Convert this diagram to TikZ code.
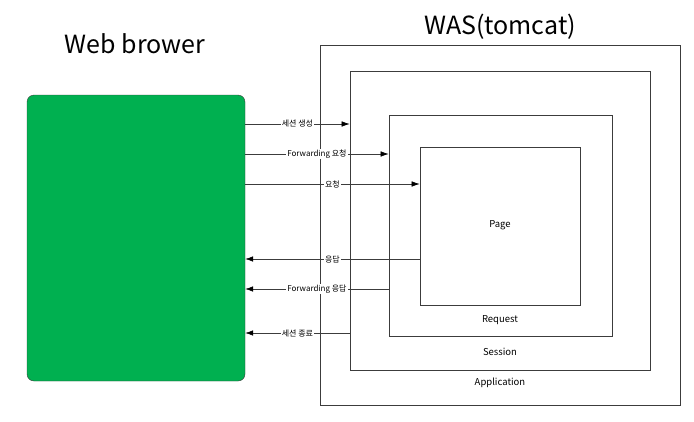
\documentclass[tikz,border=0pt]{standalone}
\usepackage{fontspec}
\setmainfont{Noto Sans CJK KR}
\usepackage{tikz}
\usetikzlibrary{arrows.meta}

\definecolor{browsergreen}{RGB}{0,176,80}
\definecolor{linegray}{RGB}{60,60,60}

\tikzset{
    scopebox/.style={draw=linegray, line width=0.7pt, inner sep=0pt},
    msg/.style={linegray, line width=0.6pt, -{Latex[length=8pt, width=5.5pt, black]}},
    msglabel/.style={fill=white, inner sep=1pt, font=\fontsize{8}{9}\selectfont, text=black},
    boxlabel/.style={font=\fontsize{9.5}{11}\selectfont},
    title/.style={font=\fontsize{25}{30}\selectfont, anchor=base}
}

\begin{document}
\begin{tikzpicture}[x=1pt, y=-1pt]
    \useasboundingbox (0,0) rectangle (694,421);

    % Titles
    \node[title] (webtitle) at (135,53) {Web brower};
    \node[title] (wastitle) at (500,34) {WAS(tomcat)};

    % Browser
    \node[draw=linegray, fill=browsergreen, rounded corners=7pt, minimum width=218pt, minimum height=286pt] (browser) at (136,238) {};

    % Scopes of the WAS
    \node[scopebox, minimum width=360pt, minimum height=360pt] (application) at (500,225) {};
    \node[scopebox, minimum width=300pt, minimum height=299pt] (session) at (500,220.5) {};
    \node[scopebox, minimum width=223pt, minimum height=221pt] (request) at (500.5,225.5) {};
    \node[scopebox, minimum width=160pt, minimum height=158pt] (page) at (500,226) {};

    % Scope labels
    \node[boxlabel] (pagelbl) at (500,225) {Page};
    \node[boxlabel] (requestlbl) at (500,320) {Request};
    \node[boxlabel] (sessionlbl) at (500,352) {Session};
    \node[boxlabel] (applicationlbl) at (500,383) {Application};

    % Requests
    \draw[msg] (browser.east |- 0,124) -- node[msglabel] {세션 생성} (session.west |- 0,124);
    \draw[msg] (browser.east |- 0,154) -- node[msglabel] {Forwarding 요청} (request.west |- 0,154);
    \draw[msg] (browser.east |- 0,184) -- node[msglabel] {요청} (page.west |- 0,184);

    % Responses
    \draw[msg] (page.west |- 0,259) -- node[msglabel] {응답} (browser.east |- 0,259);
    \draw[msg] (request.west |- 0,289) -- node[msglabel] {Forwarding 응답} (browser.east |- 0,289);
    \draw[msg] (session.west |- 0,333) -- node[msglabel] {세션 종료} (browser.east |- 0,333);
\end{tikzpicture}
\end{document}
